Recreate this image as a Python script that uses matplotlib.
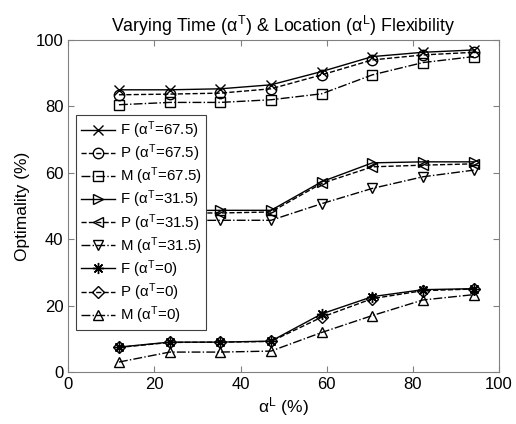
import matplotlib
matplotlib.use("Agg")
import matplotlib.pyplot as plt

plt.rcParams['font.family'] = ['Liberation Sans', 'DejaVu Sans']
plt.rcParams['mathtext.fontset'] = 'custom'
plt.rcParams['mathtext.rm'] = 'Liberation Sans'
plt.rcParams['mathtext.it'] = 'Liberation Sans'
plt.rcParams['mathtext.bf'] = 'Liberation Sans:bold'

x = [11.76, 23.53, 35.29, 47.06, 58.82, 70.59, 82.35, 94.12]

F_675 = [85.0, 85.0, 85.3, 86.5, 90.5, 95.0, 96.3, 97.0]
P_675 = [83.5, 83.7, 84.0, 85.3, 89.5, 94.0, 95.5, 96.3]
M_675 = [80.5, 81.2, 81.2, 82.0, 83.8, 89.5, 93.2, 95.0]

F_315 = [48.5, 48.6, 48.7, 48.7, 57.3, 63.0, 63.3, 63.3]
P_315 = [47.8, 47.9, 47.9, 48.2, 56.8, 61.8, 62.3, 62.7]
M_315 = [45.5, 45.6, 45.7, 45.7, 50.7, 55.3, 58.8, 60.8]

F_0 = [7.5, 9.0, 9.0, 9.3, 17.5, 22.7, 24.8, 25.1]
P_0 = [7.4, 8.9, 9.0, 9.2, 16.5, 22.1, 24.5, 25.0]
M_0 = [3.0, 6.0, 6.0, 6.3, 11.9, 17.0, 21.7, 23.3]

series = [
    ('F', '67.5', F_675, '-', 'x'),
    ('P', '67.5', P_675, '--', 'o'),
    ('M', '67.5', M_675, '-.', 's'),
    ('F', '31.5', F_315, '-', '>'),
    ('P', '31.5', P_315, '--', '<'),
    ('M', '31.5', M_315, '-.', 'v'),
    ('F', '0', F_0, '-', (8, 2, 0)),
    ('P', '0', P_0, '--', 'D'),
    ('M', '0', M_0, '-.', '^'),
]

fig = plt.figure(figsize=(5.16, 4.24), dpi=100)
ax = fig.add_axes([68.3/516, 1-372/424, (499-68.3)/516, (372-40)/424])

for name, at, vals, ls, mk in series:
    ms = 7.5
    if mk == 'D':
        ms = 6
    elif mk == 'x':
        ms = 6.5
    elif isinstance(mk, tuple):
        ms = 8
    ax.plot(x, vals, linestyle=ls, marker=mk, color='black', lw=1.0,
            markersize=ms, markerfacecolor='none', markeredgecolor='black',
            markeredgewidth=1.0,
            label=r'%s ($\alpha^{\mathrm{T}}$=%s)' % (name, at))

ax.set_xlim(0, 100)
ax.set_ylim(0, 100)
ax.set_xticks([0, 20, 40, 60, 80, 100])
ax.set_yticks([0, 20, 40, 60, 80, 100])
ax.tick_params(direction='in', top=True, right=True, labelsize=12,
               color='#808080', length=4)
for s in ax.spines.values():
    s.set_color('#808080')

ax.set_xlabel(r'$\alpha^{\mathrm{L}}$ (%)', fontsize=12.5, labelpad=2)
ax.set_ylabel('Optimality (%)', fontsize=12.5, labelpad=4)
ax.set_title(r'Varying Time ($\alpha^{\mathrm{T}}$) & Location ($\alpha^{\mathrm{L}}$) Flexibility',
             fontsize=12.8, pad=6)

leg = ax.legend(loc='upper left', bbox_to_anchor=(0.018, 0.774), borderaxespad=0,
                fontsize=10.8, frameon=True, fancybox=False, framealpha=1,
                edgecolor='#404040', handlelength=2.3, handletextpad=0.3,
                labelspacing=0.1, borderpad=0.3)
leg.get_frame().set_linewidth(0.8)

fig.savefig('out.png', dpi=100)
